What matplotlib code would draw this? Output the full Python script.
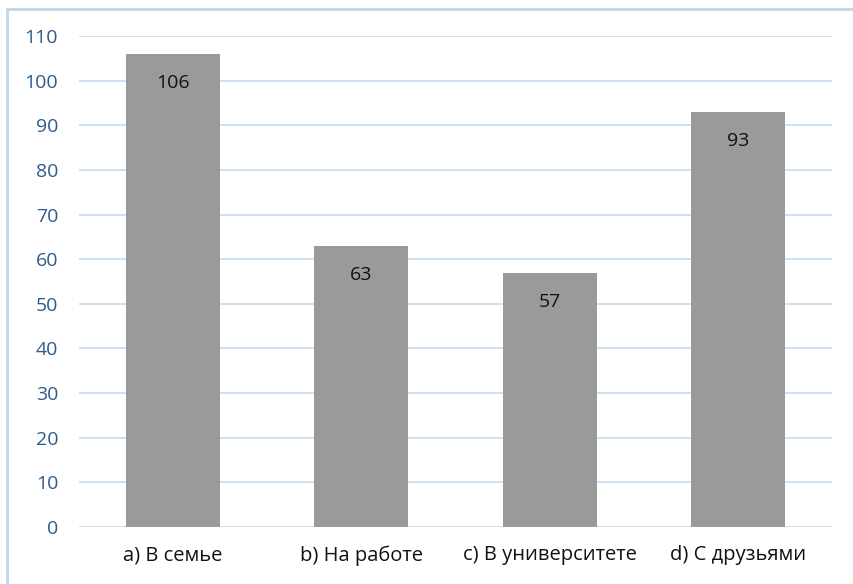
import matplotlib
matplotlib.use("Agg")
import matplotlib.pyplot as plt
from matplotlib.patches import Rectangle

categories = ["a) В семье", "b) На работе", "c) В университете", "d) С друзьями"]
values = [106, 63, 57, 93]
yticks = list(range(0, 111, 10))

plt.rcParams['font.family'] = ['Open Sans', 'DejaVu Sans']

fig = plt.figure(figsize=(8.54, 5.84), dpi=100)
ax = fig.add_axes([79 / 854, 1 - 527 / 584, (832 - 79) / 854, (527 - 36) / 584])

x = list(range(len(categories)))
bars = ax.bar(x, values, width=0.5, color="#999a9a", zorder=3)
for xi, v in zip(x, values):
    ax.annotate(str(v), (xi, v), xytext=(0, -21), textcoords="offset points",
                ha="center", va="center", fontsize=14, color="#111111", zorder=4)

ax.set_xlim(-0.5, len(categories) - 0.5)
ax.set_ylim(0, 110)
ax.set_yticks(yticks)
ax.set_xticks(x)
ax.set_xticklabels(categories, fontsize=14.5, color="#111111")
ax.tick_params(axis="y", labelsize=14, labelcolor="#2e5a8c", length=0, pad=15)
ax.tick_params(axis="x", length=0, pad=13)
ax.grid(axis="y", color="#c5daf0", linewidth=1.2, zorder=0)
ax.set_axisbelow(True)
for s in ax.spines.values():
    s.set_visible(False)

# light blue frame round the chart
fig.patches.append(Rectangle((7 / 854, -0.05), 1.1, 1 - 9 / 584 + 0.05,
                             transform=fig.transFigure, fill=False,
                             edgecolor="#bdd7ee", linewidth=2))

fig.savefig("out.png", dpi=100)
